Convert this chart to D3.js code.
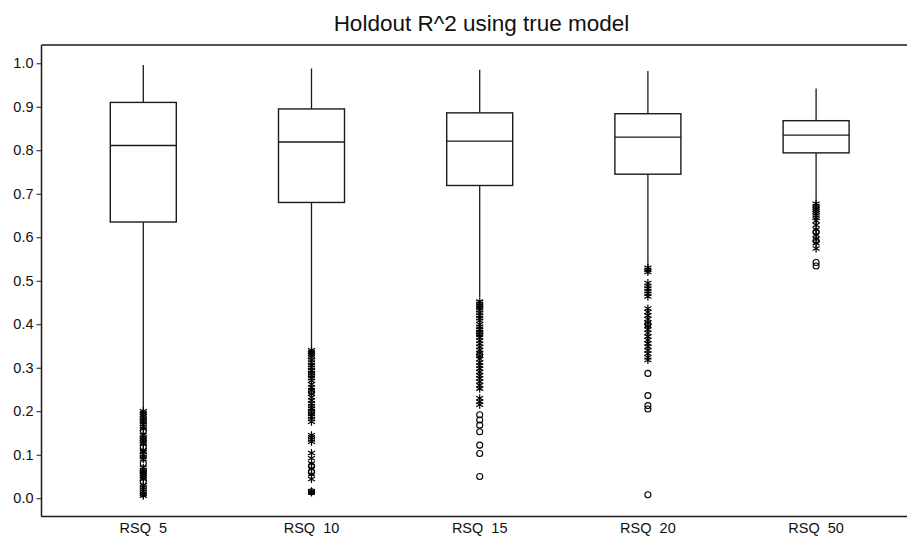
<!DOCTYPE html>
<html><head><meta charset="utf-8">
<script src="https://cdn.jsdelivr.net/npm/d3@7"></script>
<style>
html,body{margin:0;padding:0;background:#fff;}
text{font-family:"Liberation Sans",Arial,sans-serif;fill:#111;}
</style></head>
<body>
<svg id="chart" width="907" height="537"></svg>
<script>
const title = "Holdout R^2 using true model";
const categories = ["RSQ  5","RSQ  10","RSQ  15","RSQ  20","RSQ  50"];
const whiskerHigh = [0.996, 0.988, 0.985, 0.982, 0.942];
const q3 = [0.910, 0.895, 0.886, 0.884, 0.868];
const median = [0.811, 0.819, 0.821, 0.830, 0.835];
const q1 = [0.635, 0.680, 0.719, 0.745, 0.794];
const whiskerLow = [0.205, 0.345, 0.462, 0.532, 0.678];
const extremes = [
  [0.200,0.196,0.192,0.188,0.184,0.180,0.176,0.170,0.165,0.160,0.145,0.140,0.136,0.132,0.128,0.124,0.110,0.106,0.100,0.095,0.090,0.070,0.065,0.060,0.056,0.052,0.048,0.044,0.030,0.025,0.020,0.015,0.010,0.006],
  [0.340,0.336,0.332,0.328,0.324,0.318,0.312,0.306,0.300,0.294,0.288,0.282,0.276,0.270,0.262,0.255,0.248,0.240,0.232,0.225,0.218,0.212,0.206,0.200,0.194,0.188,0.182,0.176,0.145,0.140,0.135,0.130,0.104,0.092,0.080,0.068,0.055,0.044,0.016,0.013],
  [0.452,0.447,0.442,0.437,0.432,0.426,0.420,0.414,0.408,0.400,0.394,0.388,0.382,0.376,0.370,0.362,0.355,0.348,0.341,0.334,0.327,0.320,0.312,0.305,0.298,0.290,0.283,0.276,0.268,0.260,0.252,0.230,0.222,0.215],
  [0.530,0.525,0.520,0.495,0.488,0.482,0.476,0.470,0.464,0.436,0.428,0.420,0.412,0.404,0.396,0.388,0.380,0.372,0.364,0.356,0.348,0.340,0.332,0.324,0.318],
  [0.677,0.672,0.668,0.664,0.660,0.655,0.650,0.645,0.638,0.628,0.618,0.606,0.596,0.586,0.574]
];
const outliers = [
  [0.155,0.118,0.080,0.038],
  [0.285,0.245,0.198,0.074,0.060,0.015],
  [0.380,0.330,0.192,0.180,0.168,0.153,0.122,0.103,0.050],
  [0.400,0.287,0.236,0.213,0.205,0.008],
  [0.612,0.592,0.542,0.534]
];
const yTicks = [0.0,0.1,0.2,0.3,0.4,0.5,0.6,0.7,0.8,0.9,1.0];

(function(){
const svg = d3.select("#chart");
const mLeft = 41.5, mTop = 45, mBottom = 516.5, mRight = 907;
const y = d3.scaleLinear().domain([-0.042, 1.042]).range([mBottom, mTop]);
const x = d3.scalePoint().domain(categories).range([143.3, 816.1]);
const boxW = 66;
const ink = "#1a1a1a";

svg.append("text").attr("x", 481.5).attr("y", 31).attr("text-anchor","middle")
  .style("font-size","22.5px").text(title);

svg.append("line").attr("x1",mLeft).attr("x2",mRight).attr("y1",mTop).attr("y2",mTop)
  .attr("stroke",ink).attr("stroke-width",1.5);
svg.append("line").attr("x1",mLeft).attr("x2",mRight).attr("y1",mBottom).attr("y2",mBottom)
  .attr("stroke",ink).attr("stroke-width",1.5);

const yAxis = svg.append("g").attr("transform",`translate(${mLeft},0)`)
  .call(d3.axisLeft(y).tickValues(yTicks).tickFormat(d3.format(".1f")).tickSize(5).tickSizeOuter(0).tickPadding(3));
yAxis.select(".domain").attr("d", `M0,${mTop}V${mBottom}`).attr("stroke",ink).attr("stroke-width",1.5);
yAxis.selectAll(".tick line").attr("stroke",ink).attr("stroke-width",1);
yAxis.selectAll(".tick text").style("font-size","14.5px").attr("fill","#111").style("font-family","Liberation Sans, Arial, sans-serif");

svg.append("g").selectAll("text").data(categories).join("text")
  .attr("x", d => x(d)).attr("y", 533).attr("text-anchor","middle")
  .style("font-size","14.5px").style("white-space","pre")
  .text(d => d);

const g = svg.append("g");
categories.forEach((c, i) => {
  const cx = x(c);
  g.append("line").attr("x1",cx).attr("x2",cx).attr("y1",y(whiskerHigh[i])).attr("y2",y(q3[i]))
    .attr("stroke",ink).attr("stroke-width",1.3);
  g.append("line").attr("x1",cx).attr("x2",cx).attr("y1",y(q1[i])).attr("y2",y(whiskerLow[i]))
    .attr("stroke",ink).attr("stroke-width",1.3);
  g.append("rect").attr("x",cx-boxW/2).attr("width",boxW).attr("y",y(q3[i])).attr("height",y(q1[i])-y(q3[i]))
    .attr("fill","#fff").attr("stroke",ink).attr("stroke-width",1.4);
  g.append("line").attr("x1",cx-boxW/2).attr("x2",cx+boxW/2).attr("y1",y(median[i])).attr("y2",y(median[i]))
    .attr("stroke",ink).attr("stroke-width",1.3);
  g.append("g").selectAll("circle").data(outliers[i]).join("circle")
    .attr("cx", cx).attr("cy", d => y(d)).attr("r", 3)
    .attr("fill","none").attr("stroke","#000").attr("stroke-width",1.1);
  g.append("g").selectAll("path").data(extremes[i]).join("path")
    .attr("transform", d => `translate(${cx},${y(d)})`)
    .attr("d", d3.symbol(d3.symbolAsterisk, 45))
    .attr("fill","none").attr("stroke","#000").attr("stroke-width",1.2);
});
})();
</script>
</body></html>
